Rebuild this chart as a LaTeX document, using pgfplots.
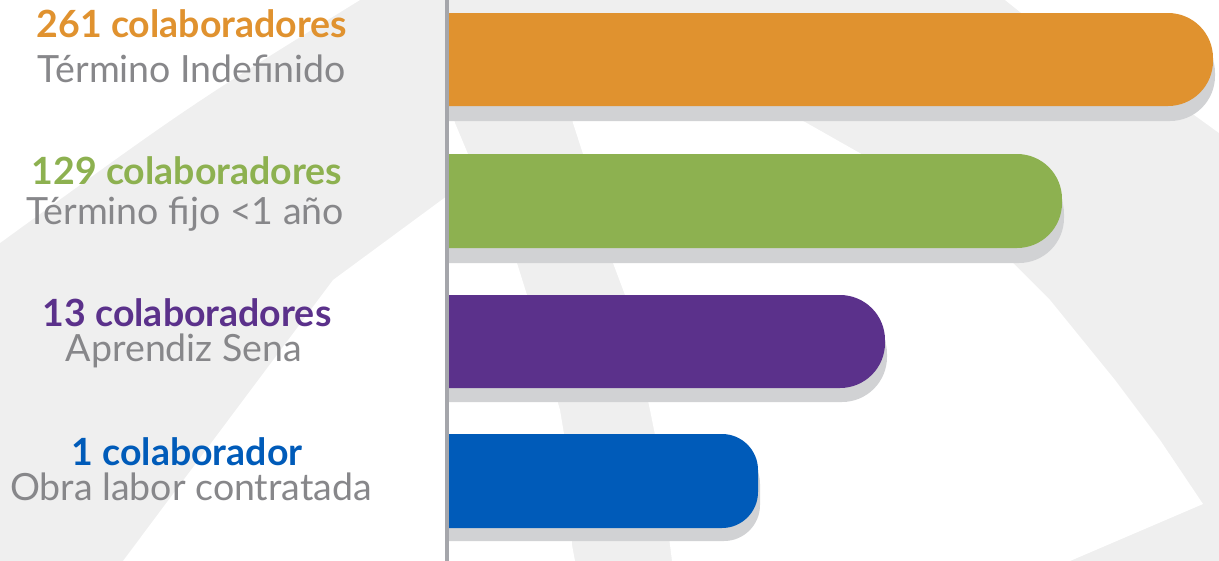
\documentclass[border=0pt]{standalone}
\usepackage{pgfplots}
\pgfplotsset{compat=1.18}
\usepackage{fontspec}
\setmainfont{Lato}
\definecolor{cOrange}{HTML}{E0922F}
\definecolor{cGreen}{HTML}{8DB150}
\definecolor{cPurple}{HTML}{5B318B}
\definecolor{cBlue}{HTML}{005BB9}
\definecolor{cText}{HTML}{87878A}
\definecolor{cShadow}{HTML}{D1D2D4}
\definecolor{cBg}{HTML}{EFEFEF}
\definecolor{cAxis}{HTML}{A5A6AB}
\begin{document}
\begin{tikzpicture}
\begin{scope}[x=1pt,y=-1pt]
  % background decoration
  \fill[cBg] (0,0) rectangle (1219,561);
  \fill[white] (0,0) -- (360,0) .. controls (190,105) .. (0,243) -- cycle;
  \fill[white] (123,561) -- (333,280) -- (447,196) -- (447,110) -- (452,110) -- (455,123) -- (468,154)
     -- (517,263) -- (527,295) -- (560,410) -- (565,440) -- (572,545) -- (575,561) -- cycle;
  \fill[white] (568,100) -- (760,100) -- (805,122) -- (872,160) -- (940,208) -- (1013,263) -- (1050,300)
     -- (1115,380) -- (1160,440) -- (1203,504) -- (1070,561) -- (672,561) -- (670,545) -- (656,440)
     -- (650,410) -- (625,295) -- (613,263) -- (583,154) -- (573,123) -- cycle;
  \fill[white] (1005,0) -- (1219,0) -- (1219,133) -- (1190,112) -- (1100,55) -- (1030,20) -- cycle;
  % labels
  \node[anchor=base, text=cOrange, font=\fontsize{37.5}{42}\selectfont\bfseries] at (192,38) {261 colaboradores};
  \node[anchor=base, text=cText, font=\fontsize{37.5}{42}\selectfont] at (192,83) {Término Indefinido};
  \node[anchor=base, text=cGreen, font=\fontsize{37.5}{42}\selectfont\bfseries] at (187,185) {129 colaboradores};
  \node[anchor=base, text=cText, font=\fontsize{37.5}{42}\selectfont] at (185,225) {Término fijo <1 año};
  \node[anchor=base, text=cPurple, font=\fontsize{37.5}{42}\selectfont\bfseries] at (187,327) {13 colaboradores};
  \node[anchor=base, text=cText, font=\fontsize{37.5}{42}\selectfont] at (184,362) {Aprendiz Sena};
  \node[anchor=base, text=cBlue, font=\fontsize{37.5}{42}\selectfont\bfseries] at (187,465) {1 colaborador};
  \node[anchor=base, text=cText, font=\fontsize{37.5}{42}\selectfont] at (191,500) {Obra labor contratada};
\end{scope}
\begin{axis}[
  at={(448pt,0pt)}, anchor=north west,
  width=771pt, height=561pt, scale only axis,
  xmin=0, xmax=771, ymin=0, ymax=561, y dir=reverse,
  axis lines=none,
  ytick=\empty, xtick=\empty,
  clip=true,
]
% shadows
\addplot[fill=cShadow, draw=none, rounded corners=45pt] coordinates {(-80,28) (767,28) (767,121) (-80,121)};
\addplot[fill=cShadow, draw=none, rounded corners=45pt] coordinates {(-80,169) (616,169) (616,263) (-80,263)};
\addplot[fill=cShadow, draw=none, rounded corners=45pt] coordinates {(-80,309) (439,309) (439,402) (-80,402)};
\addplot[fill=cShadow, draw=none, rounded corners=36pt] coordinates {(-80,448) (312,448) (312,541) (-80,541)};
% bars
\addplot[fill=cOrange, draw=none, rounded corners=45pt] coordinates {(-80,13) (765,13) (765,106) (-80,106)};
\addplot[fill=cGreen, draw=none, rounded corners=45pt] coordinates {(-80,154) (614,154) (614,248) (-80,248)};
\addplot[fill=cPurple, draw=none, rounded corners=45pt] coordinates {(-80,295) (437,295) (437,388) (-80,388)};
\addplot[fill=cBlue, draw=none, rounded corners=36pt] coordinates {(-80,434) (310,434) (310,528) (-80,528)};
\end{axis}
\begin{scope}[x=1pt,y=-1pt]
  \draw[cAxis, line width=4pt] (446.5,0) -- (446.5,561);
\end{scope}
\pgfresetboundingbox
\path (0pt,0pt) rectangle (1219pt,-561pt);
\end{tikzpicture}
\end{document}
